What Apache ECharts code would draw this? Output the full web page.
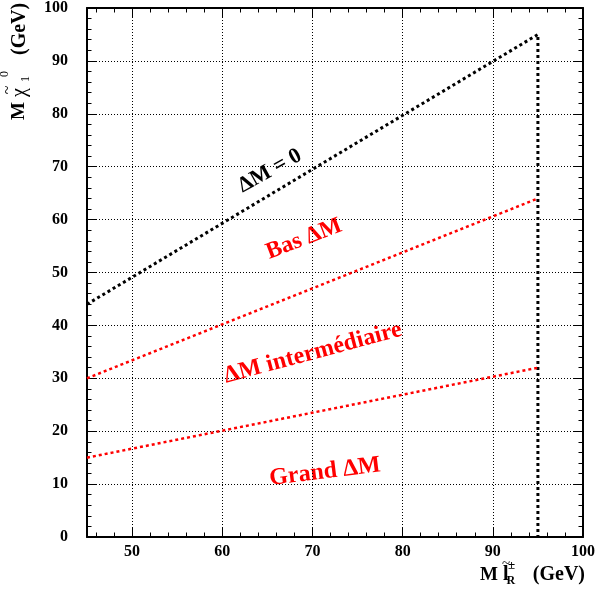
<!DOCTYPE html>
<html>
<head>
<meta charset="utf-8">
<script src="https://cdn.jsdelivr.net/npm/echarts@6/dist/echarts.min.js"></script>
<style>html,body{margin:0;padding:0;background:#fff;}#c{width:598px;height:593px;}</style>
</head>
<body>
<div id="c"></div>
<script>
// ---- data ----
const xMin = 45, xMax = 100;
const yMin = 0, yMax = 100;
const xLabelValues = [50, 60, 70, 80, 90, 100];
const xMajorTicks = [50, 60, 70, 80, 90];
const xMinorTicks = [46, 48, 52, 54, 56, 58, 62, 64, 66, 68, 72, 74, 76, 78, 82, 84, 86, 88, 92, 94, 96, 98];
const zeroLine = [[45, 44], [95, 95], [95, 0]];      // ΔM = 0 limit + vertical at 95
const basLine = [[45, 30], [95, 64]];                 // Bas / intermédiaire boundary
const grandLine = [[45, 15], [95, 32]];               // intermédiaire / Grand boundary
const regionTexts = ['ΔM = 0', 'Bas ΔM', 'ΔM intermédiaire', 'Grand ΔM'];

const FONT = '"Liberation Serif", "Times New Roman", serif';
const chart = echarts.init(document.getElementById('c'), null, {renderer: 'canvas'});

function xAxisCfg(pos, ticks, len, withLabels, withSplit, withLine) {
  return {
    type: 'value', position: pos, min: xMin, max: xMax,
    axisLine: {show: withLine, onZero: false, lineStyle: {color: '#000', width: 2}},
    axisTick: {show: true, inside: true, length: len, customValues: ticks, lineStyle: {color: '#000', width: 1}},
    axisLabel: withLabels ? {show: true, customValues: xLabelValues, margin: 7, color: '#000',
      fontFamily: FONT, fontWeight: 'bold', fontSize: 16} : {show: false},
    splitLine: {show: withSplit, lineStyle: {color: '#000', width: 1, type: [1, 2]}}
  };
}
function yAxisCfg(pos, withLabels, withSplit) {
  return {
    type: 'value', position: pos, min: yMin, max: yMax, interval: 10,
    axisLine: {show: true, onZero: false, lineStyle: {color: '#000', width: 2}},
    axisTick: {show: true, inside: true, length: 9, lineStyle: {color: '#000', width: 1}},
    minorTick: {show: true, splitNumber: 5, length: 4.5, lineStyle: {color: '#000', width: 1}},
    axisLabel: withLabels ? {show: true, margin: 19, color: '#000',
      fontFamily: FONT, fontWeight: 'bold', fontSize: 16} : {show: false},
    splitLine: {show: withSplit, lineStyle: {color: '#000', width: 1, type: [1, 2]}}
  };
}

function txt(x, y, s, font, align, extra) {
  return Object.assign({
    type: 'text', x: x, y: y, silent: true,
    style: {text: s, font: font, fill: '#000', align: align, verticalAlign: 'middle',
      textAlign: align, textVerticalAlign: 'middle'}
  }, extra || {});
}
function rotTxt(x, y, s, deg, color, size) {
  return {
    type: 'text', x: x, y: y, rotation: deg * Math.PI / 180, silent: true,
    style: {text: s, font: 'bold ' + size + 'px ' + FONT, fill: color,
      align: 'center', verticalAlign: 'middle', textAlign: 'center', textVerticalAlign: 'middle'}
  };
}

const option = {
  animation: false,
  backgroundColor: '#fff',
  grid: {left: 87, right: 12, top: 8, bottom: 56, containLabel: false},
  xAxis: [
    xAxisCfg('bottom', xMajorTicks, 9, true, true, true),
    xAxisCfg('bottom', xMinorTicks, 4.5, false, false, false),
    xAxisCfg('top', xMajorTicks, 9, false, false, true),
    xAxisCfg('top', xMinorTicks, 4.5, false, false, false)
  ],
  yAxis: [
    yAxisCfg('left', true, true),
    yAxisCfg('right', false, false)
  ],
  series: [
    {type: 'line', data: zeroLine, xAxisIndex: 0, yAxisIndex: 0, symbol: 'none', silent: true,
      lineStyle: {color: '#000', width: 3, type: [3, 3]}},
    {type: 'line', data: basLine, xAxisIndex: 0, yAxisIndex: 0, symbol: 'none', silent: true,
      lineStyle: {color: '#ff0000', width: 2.5, type: [3, 3]}},
    {type: 'line', data: grandLine, xAxisIndex: 0, yAxisIndex: 0, symbol: 'none', silent: true,
      lineStyle: {color: '#ff0000', width: 2.5, type: [3, 3]}}
  ],
  graphic: [
    rotTxt(270, 171, regionTexts[0], 29, '#000', 22),
    rotTxt(304, 239, regionTexts[1], 21, '#ff0000', 23.5),
    rotTxt(313, 353, regionTexts[2], 15, '#ff0000', 24),
    rotTxt(325, 472, regionTexts[3], 7, '#ff0000', 24),
    // y axis title (rotated)
    {
      type: 'group', x: 19.5, y: 120, rotation: Math.PI / 2, silent: true,
      children: [
        txt(0, 0, 'M', 'bold 19px ' + FONT, 'left'),
        txt(23, 0, 'χ', '20px ' + FONT, 'left'),
        txt(30, -12, '~', '16px ' + FONT, 'center'),
        txt(38, 6.5, '1', '12px ' + FONT, 'left'),
        txt(43, -14.5, '0', '12px ' + FONT, 'left'),
        txt(65, 0, '(GeV)', 'bold 20px ' + FONT, 'left')
      ]
    },
    // x axis title
    txt(480, 575, 'M', 'bold 19px ' + FONT, 'left'),
    txt(503, 575, 'l', 'bold 20px ' + FONT, 'left'),
    txt(506, 564, '~', '15px ' + FONT, 'center'),
    txt(506.5, 581, 'R', 'bold 12px ' + FONT, 'left'),
    txt(511.5, 566, '±', 'bold 13px ' + FONT, 'center'),
    txt(585, 575, '(GeV)', 'bold 20px ' + FONT, 'right')
  ]
};
chart.setOption(option);
</script>
</body>
</html>
